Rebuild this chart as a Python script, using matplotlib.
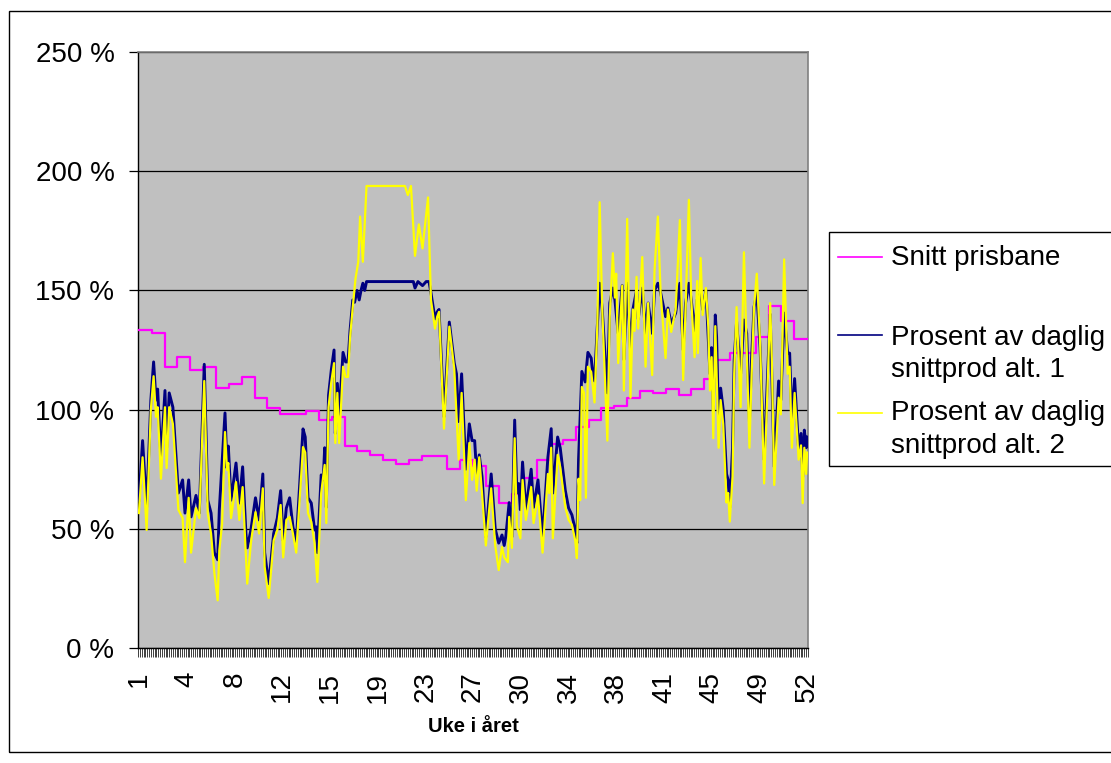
import numpy as np
import matplotlib
matplotlib.use("Agg")
import matplotlib.pyplot as plt
from matplotlib.patches import Rectangle
from matplotlib.lines import Line2D

plt.rcParams['font.family'] = ['Liberation Sans', 'DejaVu Sans']

# ukentlig snitt prisbane (%)
price_week = [133.4, 132, 118, 122, 116.6, 118, 109, 110.7, 113.7, 105,
              100.7, 98, 98, 99.4, 95.6, 97, 84.7, 82.6, 81, 78.9,
              77.2, 78.9, 80.5, 80.5, 75, 79, 76.5, 68, 60.8, 64.6,
              71.3, 79, 85.6, 87.2, 92.7, 95.6, 100.7, 101.5, 104.9, 107.8,
              107, 108.6, 106, 108.6, 113, 121, 123.7, 123.7, 130.5, 143.5,
              137, 129.6]

# (dag, prosent) lest av figuren
alt1 = [(0.5, 62), (2.5, 87), (4.7, 59), (7, 104), (8.5, 120), (9.8, 104),
        (10.7, 108.6), (12.5, 79), (14.7, 108), (15.6, 84), (17, 107), (19, 101),
        (22, 65), (24.3, 70.5), (25.6, 56.6), (27.6, 70.5), (28.9, 55), (31.6, 64),
        (33.4, 56.6), (36.1, 119), (38, 62), (39.8, 56.6), (41.6, 40), (43.4, 37),
        (44.3, 58), (47.4, 98.6), (48.5, 75.5), (49.2, 84.7), (50.7, 62),
        (53.4, 77.6), (55.2, 60.8), (57, 76), (58.8, 48), (59.5, 42), (61.5, 49.5),
        (64, 63), (66, 53.7), (68, 73), (69, 40), (71.2, 27), (73.9, 48),
        (75.9, 54.5), (77.7, 66), (79.1, 45), (80.8, 58.7), (82.6, 63),
        (84.4, 50.8), (86.2, 44.5), (89.9, 91.9), (91.1, 88.5), (92.6, 63),
        (94.4, 60.8), (96.2, 49.5), (97.1, 50.8), (97.7, 40), (99.8, 72.6),
        (100.9, 70.5), (101.7, 84), (102.6, 59), (103.8, 106), (105.3, 116.6),
        (106.8, 125), (107.5, 90), (108.6, 111), (109.6, 98), (111.7, 124),
        (113.1, 120), (114.4, 120), (115.5, 133), (117, 146), (118, 145),
        (119.3, 150), (120.5, 146), (121.5, 150), (122.5, 153), (123.5, 150),
        (124.5, 153.7), (150, 153.7), (150.9, 151), (152.5, 153.7), (155, 152),
        (157, 153.7), (158.5, 153.7), (159.6, 149), (161.8, 138), (163, 141),
        (164, 142), (166.7, 97), (169.6, 136.7), (172.3, 119.5), (173.5, 115),
        (174.7, 95), (176.3, 115), (178.6, 75), (180.5, 94), (182, 87),
        (183.4, 87), (184.5, 73), (185.9, 81), (187.4, 72), (189.5, 46.6),
        (192.4, 73), (194.6, 50), (196.5, 44), (198.3, 47.4), (199.5, 43),
        (200.4, 47), (202.2, 61), (203.7, 46.6), (205.2, 95.6), (206.4, 65),
        (207.4, 69), (208.3, 58), (209.5, 78), (211.3, 58), (214.2, 75),
        (215.5, 59), (217.9, 70.5), (220.4, 46.6), (223.3, 80), (225.1, 92),
        (226, 65), (228.6, 88.5), (230, 84), (232.8, 66), (234.6, 58.7),
        (236.4, 55.8), (238.2, 49.5), (239.1, 44), (240, 79), (241.8, 116),
        (243.6, 111.6), (245.1, 124), (246.9, 121.6), (247.8, 115), (248.7, 112),
        (250.2, 134.6), (251.5, 153), (252.9, 142), (255.7, 107), (257, 144.7),
        (258.7, 151), (259.8, 146), (261.6, 132), (263.8, 152), (264.7, 121),
        (266.5, 153), (268.3, 125), (269.6, 142), (271.6, 150), (272.5, 138),
        (274.7, 151), (276.5, 132), (277.9, 144.7), (280.1, 132), (281.4, 150),
        (283.2, 153), (284.7, 149), (287.4, 139), (288.7, 142.6), (290.5, 136),
        (292.9, 140.5), (295.2, 153), (297, 125), (298.3, 144.7), (300.1, 153),
        (301.4, 146), (303.2, 133), (304.6, 146), (306.5, 149), (307.6, 142),
        (309.4, 150), (311.6, 115), (312.5, 126), (313.4, 100), (314.5, 139.7),
        (315.2, 130.5), (316.3, 95), (317.4, 109), (318.8, 100), (320.6, 73),
        (321.5, 70.5), (322.4, 59), (323.9, 84), (324.8, 121), (326.1, 137),
        (328.3, 115), (330.1, 137.6), (331.6, 132), (333.1, 95), (334.3, 122),
        (335.6, 143), (337.1, 149), (338.9, 126), (341.1, 79), (343, 115),
        (344.4, 140), (346.6, 76), (349, 112), (350.2, 104), (352, 140.5),
        (353.9, 123.7), (355, 123.7), (356.2, 95), (357.7, 113), (359.9, 83),
        (361.2, 90), (362.1, 71.7), (363, 91.4), (364, 84), (364.5, 88.5)]

alt2 = [(0.5, 56.6), (2.5, 80), (4.7, 49.5), (7, 100), (8.5, 114), (9.8, 97),
        (10.7, 101), (12.5, 71), (14.7, 101), (15.6, 75.5), (17, 101), (19, 94),
        (22, 58), (24.3, 54.5), (25.6, 36), (27.6, 63), (28.9, 40), (31.6, 58.7),
        (33.4, 54.5), (36.1, 112), (38, 56.6), (39.8, 48), (41.6, 31.5), (43.4, 20),
        (44.3, 41), (45.8, 52), (47.4, 90.6), (48.5, 74.7), (49.2, 77.6),
        (50.7, 54.5), (53.4, 69.6), (55.2, 53.7), (57, 67.5), (59.5, 27),
        (61.5, 44), (62, 47), (64, 57), (66, 48), (68, 67), (69, 34), (71.2, 21),
        (73.9, 45), (75.9, 49.5), (77.7, 60), (79.1, 38), (80.8, 53.7),
        (82.6, 55), (84.4, 48), (86.2, 40), (89.9, 84.3), (91.1, 82),
        (92.6, 56.6), (94.4, 52.9), (96.2, 44), (97.7, 27.7), (99.8, 65),
        (101.7, 76.8), (102.6, 52.4), (103.8, 101), (105.3, 111.6),
        (106.8, 119.5), (107.5, 86), (108.6, 107), (109.6, 86), (111.7, 118),
        (113.1, 113.7), (114.4, 113.7), (115.5, 130), (117, 143), (118.5, 155),
        (120, 162), (121, 181), (122.5, 162), (124.5, 193.8), (145.4, 193.8),
        (147, 190), (148.7, 193.8), (150.9, 164.5), (153, 177.7), (155, 167.6),
        (158, 189), (159.6, 146), (161.8, 134), (163, 139), (164, 141),
        (166.7, 92), (169.6, 134.8), (172.3, 117), (174.7, 79), (176.3, 107),
        (178.6, 62), (180.5, 86), (182, 70.5), (183.4, 79), (184.5, 66),
        (185.9, 80), (187.4, 65), (189.5, 43), (192.4, 67), (194.6, 43),
        (196.5, 32.7), (198.3, 42.4), (199.5, 38), (201.5, 36), (202.2, 55),
        (203.7, 42), (205.2, 88), (206.4, 51), (208.3, 46), (209.5, 70.5),
        (211.3, 53.7), (214.2, 67.5), (215.5, 52.4), (217.9, 64), (220.4, 40),
        (223.3, 73), (224, 65), (225.1, 84), (226, 46), (228.6, 81), (230, 76),
        (232.8, 59), (234.6, 53.7), (236.4, 51.6), (238.2, 45), (239.1, 37.7),
        (240, 71), (240.9, 62), (241.8, 109.5), (243, 107), (244, 63),
        (245.1, 118), (246.9, 115.8), (248.7, 103), (250.2, 134.6), (251.5, 187),
        (252.9, 142), (255.7, 87), (257, 139), (258.7, 165.6), (259.8, 147),
        (260.5, 157), (261.6, 119.5), (263.8, 152), (264.7, 108), (266.5, 180),
        (268.3, 105), (269.6, 142), (270.5, 133), (271.6, 155.7), (272.5, 134),
        (274.7, 164), (276.5, 118), (277.9, 144.7), (280.1, 114.5),
        (281.4, 158.5), (283.2, 181), (284.7, 149), (287.4, 121.6), (288.7, 142),
        (290.5, 132.6), (292.9, 142), (295.2, 179.5), (297, 112.4), (298.3, 142),
        (300.1, 188), (301.4, 146), (303.2, 122), (304.6, 154), (305, 123.7),
        (306.5, 163.6), (307.6, 139.7), (309.4, 151), (310.7, 134.6),
        (311.6, 108), (312.5, 122), (313.4, 88), (314.5, 135), (316.3, 84),
        (317.4, 104), (318.8, 94), (320.6, 61), (321.5, 65), (322.4, 53),
        (323.9, 72), (324.8, 115), (326.1, 143), (328.3, 101), (330.1, 166),
        (331.6, 125), (333.1, 84), (334.3, 115), (335.6, 143), (337.1, 157),
        (338.9, 128), (341.1, 69), (343, 110), (344.4, 144.7), (345.3, 121),
        (346.6, 68.4), (349, 105), (350.2, 98), (352, 163), (353.9, 115),
        (355, 118), (356.2, 84), (357.7, 107), (359.9, 79), (361.2, 85),
        (362.1, 60.8), (363, 84), (364, 73), (364.5, 82)]

week_labels = ["1", "4", "8", "12", "15", "19", "23", "27", "30", "34",
               "38", "41", "45", "49", "52"]
y_ticks = [0, 50, 100, 150, 200, 250]

W, H = 1111, 763
fig = plt.figure(figsize=(W / 100, H / 100), dpi=100)
fig.patch.set_facecolor("white")

# ramme rundt hele diagrammet
fig.add_artist(Rectangle((9 / W, 1 - 752 / H), 1.2, (752 - 10.7) / H,
                         transform=fig.transFigure, fill=False,
                         edgecolor="black", lw=1))

ax = fig.add_axes([138 / W, 1 - 648 / H, 670 / W, 596 / H])
ax.set_facecolor("#C0C0C0")

n_days = 365
px = np.arange(len(price_week)) * 7 + 0.5
px = np.append(px, n_days - 0.5)
py = np.append(price_week, price_week[-1])
ax.plot(px, py, color="#FF00FF", lw=1.6, drawstyle="steps-post", zorder=3)

d1, v1 = zip(*alt1)
d2, v2 = zip(*alt2)
ax.plot(d1, v1, color="#000080", lw=2.1, zorder=4)
ax.plot(d2, v2, color="#FFFF00", lw=1.6, zorder=5)

ax.set_xlim(0, n_days)
ax.set_ylim(0, 250)

ax.set_yticks(y_ticks)
ax.set_yticklabels([f"{v} %" for v in y_ticks], fontsize=20)
ax.yaxis.grid(True, color="black", lw=0.9)
ax.set_axisbelow(True)
ax.tick_params(axis="y", length=6.5, width=0.9, pad=10.5, direction="out")

label_pos = np.arange(len(week_labels)) * 26 + 0.5
ax.set_xticks(label_pos)
ax.set_xticklabels(week_labels, rotation=90, fontsize=20)
ax.set_xticks(np.arange(0, n_days + 1), minor=True)
ax.tick_params(axis="x", which="major", length=0, pad=17)
ax.tick_params(axis="x", which="minor", length=6.5, width=0.6, color="#202020",
               direction="out")

for s in ["left", "bottom"]:
    ax.spines[s].set_color("black")
    ax.spines[s].set_linewidth(1)
for s in ["top", "right"]:
    ax.spines[s].set_color("#808080")
    ax.spines[s].set_linewidth(1.2)

fig.text(473 / W, 1 - 727 / H, "Uke i året", ha="center", va="center",
         fontsize=14.5, fontweight="bold")

# forklaring
fig.add_artist(Rectangle((829 / W, 1 - 466 / H), 1.0, (466 - 232) / H,
                         transform=fig.transFigure, facecolor="white",
                         edgecolor="black", lw=1))
leg_colors = ["#FF00FF", "#000080", "#FFFF00"]
leg_line_y = [256.7, 335, 412.7]
for c, y in zip(leg_colors, leg_line_y):
    fig.add_artist(Line2D([838 / W, 882 / W], [1 - y / H, 1 - y / H],
                          transform=fig.transFigure, color=c, lw=1.2))
leg_lines = [("Snitt prisbane", 265), ("Prosent av daglig", 345),
             ("snittprod alt. 1", 376.7), ("Prosent av daglig", 420),
             ("snittprod alt. 2", 453.3)]
for txt, y in leg_lines:
    fig.text(891 / W, 1 - y / H, txt, ha="left", va="baseline", fontsize=20)

fig.savefig("out.png", dpi=100)
